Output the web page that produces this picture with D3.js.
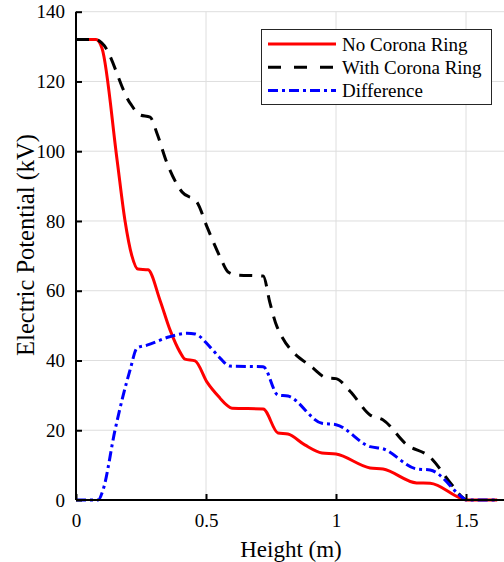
<!DOCTYPE html>
<html>
<head>
<meta charset="utf-8">
<script src="https://cdnjs.cloudflare.com/ajax/libs/d3/7.8.5/d3.min.js"></script>
<style>
  body { margin: 0; background: #fff; }
  svg { display: block; font-family: "Liberation Serif", "Times New Roman", Times, serif; }
</style>
</head>
<body>
<div id="chart"></div>
<script>
// values
const noRingX = [0, 0.077, 0.1, 0.158, 0.188, 0.215, 0.238, 0.277, 0.323, 0.362, 0.4, 0.419, 0.458, 0.504, 0.554, 0.58, 0.6, 0.72, 0.777, 0.815, 0.88, 0.946, 1.0, 1.131, 1.181, 1.31, 1.362, 1.477, 1.5, 1.62];
const noRingY = [132, 132, 129.5, 97.5, 80.3, 70, 66.2, 66, 57.3, 48.7, 42.4, 40.4, 39.9, 33.8, 29.2, 27.2, 26.3, 26.1, 19.2, 18.9, 15.8, 13.5, 13.2, 9.2, 8.9, 4.9, 4.8, 0.6, 0, 0];

const withRingX = [0, 0.077, 0.1, 0.208, 0.246, 0.285, 0.312, 0.35, 0.408, 0.465, 0.504, 0.554, 0.585, 0.62, 0.72, 0.746, 0.773, 0.912, 0.965, 1.0, 1.054, 1.131, 1.18, 1.273, 1.36, 1.44, 1.49, 1.5];
const withRingY = [132, 132, 131, 113.8, 110.4, 109.8, 105, 96.6, 88.3, 85.4, 78.3, 69.7, 65.4, 64.5, 64.2, 56.5, 49.7, 37.8, 35, 34.8, 31.2, 24.4, 23, 15.8, 12.4, 4.9, 0.5, 0];

const diffX = [0, 0.085, 0.104, 0.15, 0.208, 0.235, 0.273, 0.36, 0.427, 0.458, 0.515, 0.554, 0.592, 0.72, 0.777, 0.815, 0.946, 1.0, 1.131, 1.18, 1.31, 1.362, 1.49, 1.5, 1.62];
const diffY = [0, 0, 2.9, 20, 37.3, 43.6, 44.4, 46.8, 47.8, 47.6, 43.9, 40.7, 38.4, 38.2, 30.1, 29.8, 22, 21.6, 15.3, 14.7, 8.9, 8.6, 0.5, 0, 0];

const seriesNames = ["No Corona Ring", "With Corona Ring", "Difference"];
const xTicks = [0, 0.5, 1, 1.5];
const yTicks = [0, 20, 40, 60, 80, 100, 120, 140];

let WIDTH = 504, HEIGHT = 562;
const SERIF = "'Liberation Serif', 'Times New Roman', Times, serif";

let svg = d3.select("#chart")
    .append("svg")
    .attr("width", WIDTH)
    .attr("height", HEIGHT);

let x = d3.scaleLinear().domain([0, 1.65]).range([76, 505]);
let y = d3.scaleLinear().domain([0, 140]).range([500, 11.7]);

// grid
svg.append("g")
    .selectAll("line")
    .data(xTicks)
    .enter()
    .append("line")
    .attr("x1", d => x(d)).attr("x2", d => x(d))
    .attr("y1", y(0)).attr("y2", y(140))
    .attr("stroke", "#dedede")
    .attr("stroke-width", 1);

svg.append("g")
    .selectAll("line")
    .data(yTicks)
    .enter()
    .append("line")
    .attr("x1", x(0)).attr("x2", WIDTH)
    .attr("y1", d => y(d)).attr("y2", d => y(d))
    .attr("stroke", "#dedede")
    .attr("stroke-width", 1);

// lines
let line = d3.line()
    .x(d => x(d[0]))
    .y(d => y(d[1]))
    .curve(d3.curveMonotoneX);

let series = [
    { name: seriesNames[0], pts: d3.zip(noRingX, noRingY), color: "#ff0000", dash: null },
    { name: seriesNames[1], pts: d3.zip(withRingX, withRingY), color: "#000000", dash: "13,9" },
    { name: seriesNames[2], pts: d3.zip(diffX, diffY), color: "#0000ff", dash: "10,4,3,4" }
];

series.forEach(s => {
    svg.append("path")
        .attr("d", line(s.pts))
        .attr("fill", "none")
        .attr("stroke", s.color)
        .attr("stroke-width", 3)
        .attr("stroke-dasharray", s.dash);
});

// axes
let xAxis = d3.axisBottom(x).tickValues(xTicks).tickFormat(d3.format("")).tickSizeInner(-6).tickSizeOuter(0).tickPadding(14);
let yAxis = d3.axisLeft(y).tickValues(yTicks).tickSizeInner(-6).tickSizeOuter(0).tickPadding(14);

let gx = svg.append("g")
    .attr("transform", `translate(0,${y(0)})`)
    .call(xAxis);
let gy = svg.append("g")
    .attr("transform", `translate(${x(0)},0)`)
    .call(yAxis);

[gx, gy].forEach(g => {
    g.attr("font-family", SERIF).attr("font-size", 19);
    g.select(".domain").attr("stroke", "#000").attr("stroke-width", 2);
    g.selectAll(".tick line").attr("stroke", "#000").attr("stroke-width", 2);
    g.selectAll(".tick text").attr("fill", "#000");
});
gx.select(".domain").attr("d", `M${x(0)},0H${WIDTH}`);
gy.select(".domain").attr("d", `M0,${y(0)}V${y(140)}`);
gx.selectAll(".tick text").attr("dy", "0.71em");
gy.selectAll(".tick text").attr("x", -11);

// axis titles
svg.append("text")
    .attr("x", 291)
    .attr("y", 557)
    .attr("text-anchor", "middle")
    .attr("font-family", SERIF)
    .style("font-size", "23px")
    .text("Height (m)");

svg.append("text")
    .attr("transform", "translate(34,245) rotate(-90)")
    .attr("text-anchor", "middle")
    .attr("font-family", SERIF)
    .style("font-size", "24.5px")
    .text("Electric Potential (kV)");

// legend
let legend = svg.append("g");
legend.append("rect")
    .attr("x", 261.5).attr("y", 29.5)
    .attr("width", 230).attr("height", 75)
    .attr("fill", "#fff")
    .attr("stroke", "#262626")
    .attr("stroke-width", 1);

series.forEach((s, i) => {
    let cy = 44 + i * 23.3;
    legend.append("line")
        .attr("x1", 268).attr("x2", 336)
        .attr("y1", cy).attr("y2", cy)
        .attr("stroke", s.color)
        .attr("stroke-width", 3)
        .attr("stroke-dasharray", i === 1 ? "13,13" : s.dash);
    legend.append("text")
        .attr("x", 342)
        .attr("y", cy)
        .attr("dy", "0.35em")
        .attr("font-family", SERIF)
        .style("font-size", "19px")
        .text(s.name);
});
</script>
</body>
</html>
